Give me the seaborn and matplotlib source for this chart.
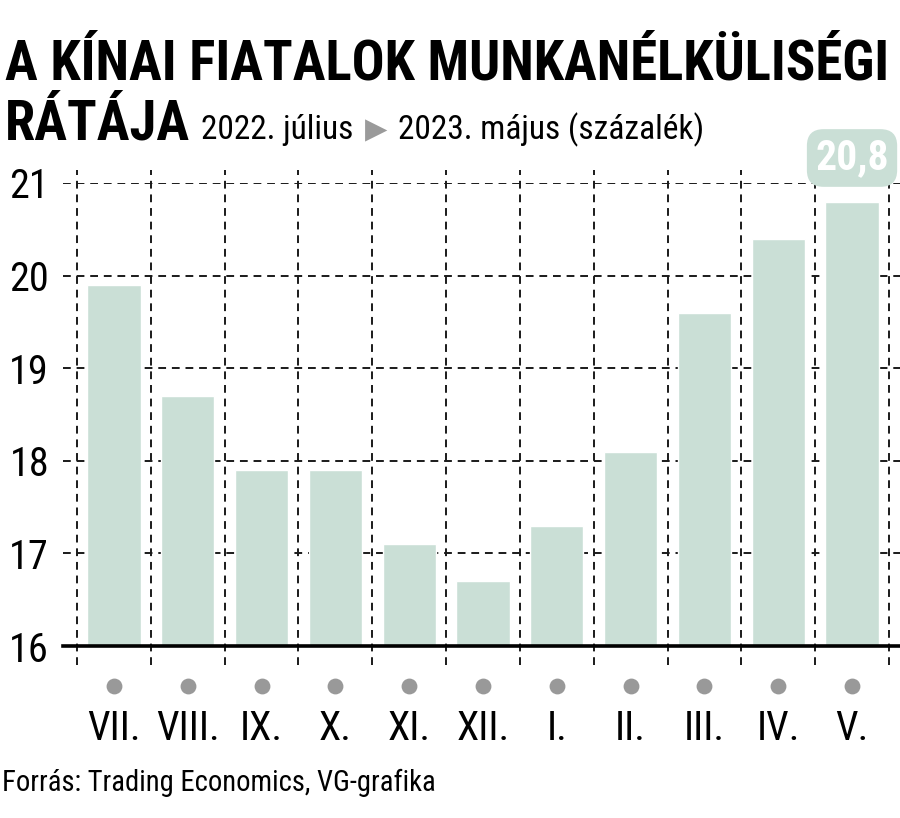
import matplotlib
matplotlib.use('Agg')
import matplotlib.pyplot as plt
import matplotlib.transforms as mtrans
from matplotlib import font_manager as fm
import seaborn as sns
import pandas as pd
import numpy as np

months = ["VII.", "VIII.", "IX.", "X.", "XI.", "XII.", "I.", "II.", "III.", "IV.", "V."]
rates = [19.9, 18.7, 17.9, 17.9, 17.1, 16.7, 17.3, 18.1, 19.6, 20.4, 20.8]
yticks = [16, 17, 18, 19, 20, 21]
title1 = "A KÍNAI FIATALOK MUNKANÉLKÜLISÉGI"
title2 = "RÁTÁJA"
sub_a = "2022. július"
sub_b = "2023. május (százalék)"
source = "Forrás: Trading Economics, VG-grafika"
highlight = "20,8"

BAR = '#cadfd6'
GRID = '#1a1a1a'


def pick(cands):
    for c in cands:
        try:
            fm.findfont(fm.FontProperties(family=c), fallback_to_default=False)
            return c
        except Exception:
            pass
    return 'DejaVu Sans'


sns.set_theme(style='white')
FONT = pick(['Liberation Sans Narrow', 'Roboto Condensed', 'Open Sans Condensed',
             'Noto Sans', 'Liberation Sans'])
plt.rcParams['font.family'] = [FONT, 'DejaVu Sans']

W, H = 900, 818
fig = plt.figure(figsize=(W / 100, H / 100), dpi=100)
fig.patch.set_facecolor('white')
ax = fig.add_axes([63 / W, (H - 646) / H, (900 - 63) / W, (646 - 183) / H])
ax.set_facecolor('white')

df = pd.DataFrame({'month': months, 'rate': rates})
sns.barplot(data=df, x='month', y='rate', color=BAR, saturation=1, width=0.72,
            ax=ax, zorder=2)

ax.set_ylim(16, 21)
ax.set_xlim(-0.69, len(months) - 0.35)
ax.set_yticks(yticks)
ax.yaxis.grid(True, linestyle=(0, (4, 3)), color=GRID, lw=1.4, zorder=0.5)
ax.xaxis.grid(False)
ax.set_axisbelow(True)
ax.set_xlabel('')
ax.set_ylabel('')

# vertical dashed separators between categories
ax.vlines(np.arange(len(months) + 1) - 0.5, 15.8, 21.14, colors=GRID,
          linestyles=(0, (4, 3)), lw=1.4, clip_on=False, zorder=0.6)

for s in ['left', 'top', 'right']:
    ax.spines[s].set_visible(False)
ax.spines['bottom'].set_color('black')
ax.spines['bottom'].set_linewidth(2.6)
ax.spines['bottom'].set_zorder(3)

ax.tick_params(axis='y', length=0, labelsize=29, pad=10, colors='black')
ax.tick_params(axis='x', length=0, labelsize=29, pad=45, colors='black')

# grey dots under each category
dot_tr = mtrans.blended_transform_factory(ax.transData, ax.transAxes)
ax.scatter(np.arange(len(months)), [-0.087] * len(months), s=130, color='#999999',
           transform=dot_tr, clip_on=False, zorder=3, linewidths=0)

# highlighted last value
ax.text(len(months) - 1, 21.27, highlight, ha='center', va='center', color='white',
        fontsize=30, fontweight='bold', zorder=5,
        bbox=dict(boxstyle='round,pad=0.2,rounding_size=0.4', fc=BAR, ec='none'))

r = fig.canvas.get_renderer()


def fit(t, width_px):
    w = t.get_window_extent(r).width
    t.set_fontsize(t.get_fontsize() * width_px / w)


def right_px(t):
    return t.get_window_extent(r).x1


t1 = fig.text(5 / W, 1 - 80 / H, title1, fontsize=38, fontweight='bold', va='baseline',
              color='black')
fit(t1, 885)
t2 = fig.text(5 / W, 1 - 139 / H, title2, fontsize=t1.get_fontsize(), fontweight='bold',
              va='baseline', color='black')
x = right_px(t2) + 11
ta = fig.text(x / W, 1 - 139 / H, sub_a, fontsize=24, va='baseline', color='black')
x = right_px(ta) + 11
tri = fig.text(x / W, 1 - 138 / H, '▶', fontsize=21, va='baseline', color='#9a9a9a',
               family='DejaVu Sans')
x = right_px(tri) + 11
tb = fig.text(x / W, 1 - 139 / H, sub_b, fontsize=24, va='baseline', color='black')

ts = fig.text(2 / W, 1 - 791 / H, source, fontsize=22, va='baseline', color='black')
fit(ts, 433)

fig.savefig('out.png', dpi=100, facecolor='white')
